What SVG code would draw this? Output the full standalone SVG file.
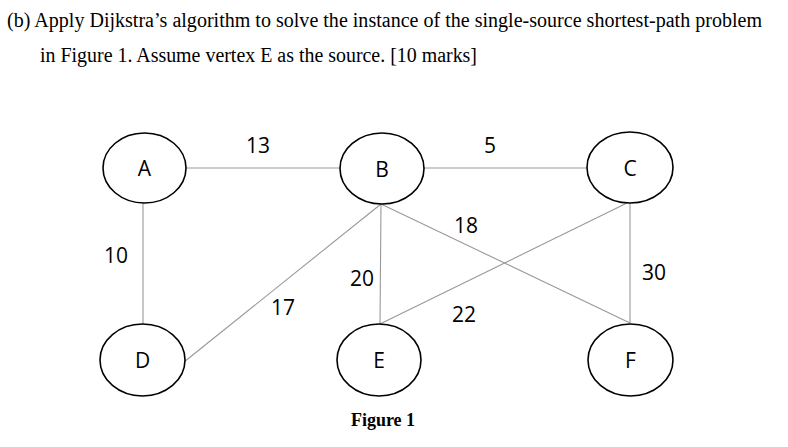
<svg xmlns="http://www.w3.org/2000/svg" width="788" height="447" viewBox="0 0 788 447">
<style>
.q{font-family:"Liberation Serif","Times New Roman",serif;font-size:20px;fill:#000}
.n ellipse{fill:#fff;stroke:#000;stroke-width:1.6}
.n text{font-family:"Open Sans","Liberation Sans",sans-serif;font-size:21px;fill:#000;text-anchor:middle}
.e line{stroke:#999;stroke-width:1.1}
.w{font-family:"Open Sans","Liberation Sans",sans-serif;font-size:21px;fill:#000;text-anchor:middle}
.cap{font-family:"Liberation Serif","Times New Roman",serif;font-size:18px;font-weight:bold;text-anchor:middle}
</style>
<rect width="788" height="447" fill="#fff"/>
<text class="q" x="7" y="27" textLength="755" lengthAdjust="spacingAndGlyphs">(b) Apply Dijkstra’s algorithm to solve the instance of the single-source shortest-path problem</text>
<text class="q" x="40" y="62" textLength="437" lengthAdjust="spacingAndGlyphs">in Figure 1. Assume vertex E as the source. [10 marks]</text>
<g id="connectors" class="e">
<line x1="186" y1="168" x2="340" y2="168"/>
<line x1="424" y1="168" x2="587" y2="168"/>
<line x1="143" y1="203" x2="143" y2="324"/>
<line x1="630" y1="203" x2="630" y2="323"/>
<line x1="184" y1="362" x2="381" y2="204"/>
<line x1="381" y1="204" x2="380" y2="324"/>
<line x1="381" y1="204" x2="630" y2="323"/>
<line x1="627" y1="203" x2="380" y2="324"/>
</g>
<g id="weights">
<text class="w" x="258" y="153">13</text>
<text class="w" x="490" y="153">5</text>
<text class="w" x="466" y="233">18</text>
<text class="w" x="116" y="263">10</text>
<text class="w" x="362" y="286">20</text>
<text class="w" x="654" y="280">30</text>
<text class="w" x="283" y="315">17</text>
<text class="w" x="464" y="322">22</text>
</g>
<g id="A" class="n"><ellipse cx="144.5" cy="168" rx="41.5" ry="35"/><text x="144.5" y="176">A</text></g>
<g id="B" class="n"><ellipse cx="382" cy="168.5" rx="42" ry="35.5"/><text x="382" y="176.5">B</text></g>
<g id="C" class="n"><ellipse cx="630" cy="167.5" rx="43" ry="35.5"/><text x="630" y="175.5">C</text></g>
<g id="D" class="n"><ellipse cx="142.5" cy="360" rx="42.5" ry="36"/><text x="142.5" y="368">D</text></g>
<g id="E" class="n"><ellipse cx="379" cy="360" rx="42" ry="36"/><text x="379" y="368">E</text></g>
<g id="F" class="n"><ellipse cx="630.5" cy="360" rx="42.5" ry="36"/><text x="630.5" y="368">F</text></g>
<text class="cap" x="383" y="426">Figure 1</text>
</svg>
